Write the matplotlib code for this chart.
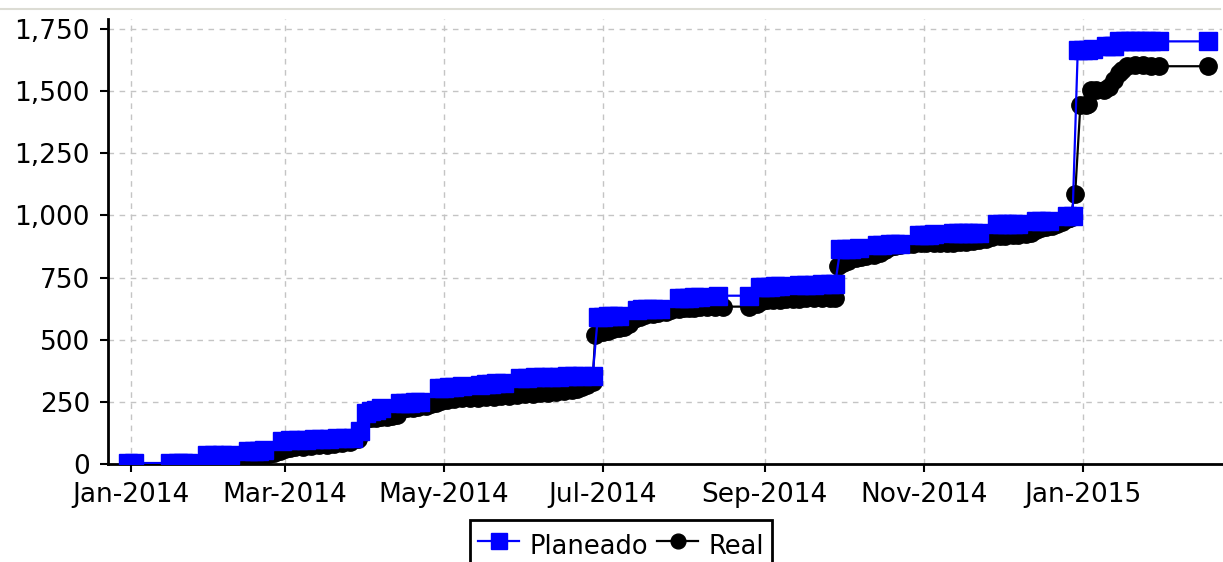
import matplotlib
matplotlib.use("Agg")
import matplotlib.pyplot as plt
import matplotlib.dates as mdates
import matplotlib.ticker as mticker
from matplotlib.lines import Line2D
import pandas as pd

# ---- data ----
plan_dates = [
    "2013-12-31", "2014-01-02", "2014-01-16", "2014-01-19", "2014-01-21", "2014-01-23",
    "2014-01-30", "2014-02-02", "2014-02-05", "2014-02-08",
    "2014-02-15", "2014-02-17", "2014-02-19", "2014-02-21",
    "2014-02-28", "2014-03-03", "2014-03-06", "2014-03-09", "2014-03-12", "2014-03-15",
    "2014-03-18", "2014-03-21", "2014-03-24", "2014-03-27",
    "2014-03-30",
    "2014-04-01", "2014-04-03", "2014-04-05", "2014-04-07",
    "2014-04-14", "2014-04-16", "2014-04-18", "2014-04-20", "2014-04-22",
    "2014-04-29", "2014-05-01", "2014-05-03", "2014-05-05", "2014-05-08",
    "2014-05-15", "2014-05-17", "2014-05-19", "2014-05-21", "2014-05-24",
    "2014-05-30", "2014-06-02", "2014-06-05", "2014-06-08", "2014-06-11", "2014-06-14",
    "2014-06-17", "2014-06-20", "2014-06-23", "2014-06-27",
    "2014-06-29", "2014-07-01", "2014-07-03", "2014-07-05", "2014-07-07",
    "2014-07-14", "2014-07-16", "2014-07-18", "2014-07-20", "2014-07-23",
    "2014-07-30", "2014-08-01", "2014-08-03", "2014-08-05", "2014-08-07",
    "2014-08-14", "2014-08-26",
    "2014-08-30", "2014-09-01", "2014-09-03", "2014-09-05", "2014-09-07",
    "2014-09-14", "2014-09-17", "2014-09-20", "2014-09-23", "2014-09-26", "2014-09-28",
    "2014-09-30", "2014-10-02", "2014-10-04", "2014-10-07",
    "2014-10-14", "2014-10-16", "2014-10-19", "2014-10-21", "2014-10-23",
    "2014-10-30", "2014-11-01", "2014-11-03", "2014-11-05",
    "2014-11-12", "2014-11-14", "2014-11-16", "2014-11-18", "2014-11-20", "2014-11-22",
    "2014-11-29", "2014-12-01", "2014-12-03", "2014-12-05", "2014-12-07",
    "2014-12-14", "2014-12-16", "2014-12-19",
    "2014-12-26", "2014-12-28",
    "2014-12-30", "2015-01-01", "2015-01-03", "2015-01-05",
    "2015-01-10", "2015-01-12", "2015-01-13",
    "2015-01-15", "2015-01-17", "2015-01-19", "2015-01-21", "2015-01-23", "2015-01-25",
    "2015-01-27", "2015-01-30", "2015-02-18"]
plan_values = [
    4, 4, 4, 4, 4, 4,
    36, 36, 37, 38,
    51, 52, 54, 56,
    94, 95, 96, 97, 99, 100,
    101, 103, 104, 105,
    134,
    207, 212, 218, 224,
    245, 246, 247, 248, 250,
    306, 307, 308, 310, 312,
    318, 320, 322, 324, 326,
    346, 347, 348, 349, 350, 351,
    352, 353, 354, 355,
    592, 593, 594, 595, 597,
    621, 622, 623, 624, 625,
    667, 668, 669, 670, 671,
    677, 677,
    711, 712, 713, 714, 715,
    720, 721, 722, 723, 725, 726,
    865, 866, 866, 867,
    881, 882, 883, 884, 885,
    922, 922, 923, 924,
    928, 928, 929, 930, 930, 931,
    965, 965, 966, 966, 967,
    976, 977, 978,
    996, 998,
    1665, 1666, 1667, 1668,
    1680, 1681, 1682,
    1700, 1700, 1700, 1700, 1700, 1700,
    1700, 1700, 1700]

real_dates = [
    "2014-01-16", "2014-01-20", "2014-01-23", "2014-01-27", "2014-01-30", "2014-02-02",
    "2014-02-05", "2014-02-08", "2014-02-11", "2014-02-14", "2014-02-17", "2014-02-19",
    "2014-02-21", "2014-02-23", "2014-02-25", "2014-02-27", "2014-03-01", "2014-03-03",
    "2014-03-05", "2014-03-08", "2014-03-11", "2014-03-14", "2014-03-17", "2014-03-20",
    "2014-03-23", "2014-03-26", "2014-03-29", "2014-04-01", "2014-04-03", "2014-04-05",
    "2014-04-07", "2014-04-09", "2014-04-11", "2014-04-13", "2014-04-15", "2014-04-17",
    "2014-04-19", "2014-04-21", "2014-04-24", "2014-04-26", "2014-04-28", "2014-04-30",
    "2014-05-02", "2014-05-05", "2014-05-08", "2014-05-11", "2014-05-14", "2014-05-17",
    "2014-05-20", "2014-05-23", "2014-05-26", "2014-05-29", "2014-06-01", "2014-06-04",
    "2014-06-07", "2014-06-10", "2014-06-13", "2014-06-16", "2014-06-19", "2014-06-21",
    "2014-06-23", "2014-06-25", "2014-06-27", "2014-06-28", "2014-07-01", "2014-07-03",
    "2014-07-05", "2014-07-07", "2014-07-09", "2014-07-11", "2014-07-13", "2014-07-15",
    "2014-07-17", "2014-07-20", "2014-07-22", "2014-07-25", "2014-07-27", "2014-07-30",
    "2014-08-01", "2014-08-03", "2014-08-05", "2014-08-07", "2014-08-10", "2014-08-13",
    "2014-08-16", "2014-08-26", "2014-08-29", "2014-08-31", "2014-09-02", "2014-09-04",
    "2014-09-07", "2014-09-09", "2014-09-12", "2014-09-14", "2014-09-17", "2014-09-20",
    "2014-09-23", "2014-09-26", "2014-09-28", "2014-09-29", "2014-10-01", "2014-10-03",
    "2014-10-06", "2014-10-08", "2014-10-10", "2014-10-13", "2014-10-15", "2014-10-17",
    "2014-10-19", "2014-10-21", "2014-10-23", "2014-10-26", "2014-10-28", "2014-10-31",
    "2014-11-02", "2014-11-05", "2014-11-07", "2014-11-10", "2014-11-12", "2014-11-15",
    "2014-11-17", "2014-11-20", "2014-11-22", "2014-11-25", "2014-11-27", "2014-11-30",
    "2014-12-02", "2014-12-05", "2014-12-07", "2014-12-10", "2014-12-12", "2014-12-14",
    "2014-12-16", "2014-12-18", "2014-12-20", "2014-12-22", "2014-12-24", "2014-12-26",
    "2014-12-27", "2014-12-29", "2014-12-31", "2015-01-02", "2015-01-03", "2015-01-04",
    "2015-01-06", "2015-01-09", "2015-01-11", "2015-01-13", "2015-01-15", "2015-01-16",
    "2015-01-18", "2015-01-21", "2015-01-24", "2015-01-27", "2015-01-30", "2015-02-18"]
real_values = [
    0, 0, 0, 1, 2, 3,
    4, 5, 8, 15, 25, 30,
    35, 40, 45, 52, 62, 65,
    68, 70, 72, 75, 78, 82,
    85, 90, 100, 182, 184, 185,
    188, 190, 193, 197, 220, 224,
    227, 230, 235, 240, 245, 252,
    258, 262, 264, 266, 267, 268,
    270, 273, 275, 278, 280, 282,
    285, 287, 289, 293, 298, 302,
    308, 316, 330, 519, 530, 537,
    542, 547, 552, 565, 585, 592,
    598, 605, 608, 612, 618, 625,
    627, 628, 629, 630, 631, 632,
    633, 633, 645, 655, 658, 660,
    661, 662, 664, 665, 666, 667,
    667, 668, 668, 797, 810, 818,
    830, 833, 835, 842, 850, 862,
    873, 877, 880, 884, 886, 888,
    889, 890, 890, 890, 890, 891,
    893, 897, 900, 907, 913, 916,
    918, 920, 921, 925, 930, 940,
    950, 955, 958, 965, 975, 985,
    990, 1085, 1444, 1446, 1450, 1504,
    1505, 1506, 1518, 1545, 1571, 1585,
    1600, 1605, 1603, 1600, 1600, 1600]

series_labels = ["Planeado", "Real"]

# ---- figure ----
W, H, DPI = 1223, 562, 100
fig = plt.figure(figsize=(W / DPI, H / DPI), dpi=DPI)
ax = fig.add_axes([108 / W, (H - 464) / H, (1222 - 108) / W, (464 - 19) / H])

pd_plan = pd.to_datetime(plan_dates)
pd_real = pd.to_datetime(real_dates)

ax.plot(pd_real, real_values, color="black", lw=1.6, marker="o", ms=12.5,
        label=series_labels[1], zorder=3)
ax.plot(pd_plan, plan_values, color="#0000ff", lw=1.6, marker="s", ms=13,
        label=series_labels[0], zorder=4)

base = pd.Timestamp("2014-01-01")
ax.set_xlim(base - pd.Timedelta(days=8.8), base + pd.Timedelta(days=418.3))
ax.set_ylim(0, 1790)

ax.xaxis.set_major_locator(mdates.MonthLocator(bymonth=[1, 3, 5, 7, 9, 11]))
ax.xaxis.set_major_formatter(mdates.DateFormatter("%b-%Y"))
ax.yaxis.set_major_locator(mticker.MultipleLocator(250))
ax.yaxis.set_major_formatter(mticker.FuncFormatter(lambda v, p: f"{int(v):,}"))

ax.grid(True, color="#c4c4c4", linestyle=(0, (4, 4)), linewidth=1.0)
ax.set_axisbelow(True)

for s in ["top", "right"]:
    ax.spines[s].set_visible(False)
for s in ["left", "bottom"]:
    ax.spines[s].set_linewidth(2)
    ax.spines[s].set_color("black")

ax.tick_params(axis="both", which="major", labelsize=19, length=6, width=1.5,
               color="black", labelcolor="black", direction="out")
ax.tick_params(axis="x", pad=7)
ax.tick_params(axis="y", pad=7)

handles, labels = ax.get_legend_handles_labels()
order = [1, 0]
leg = fig.legend([handles[i] for i in order], [labels[i] for i in order],
                 loc="upper center", bbox_to_anchor=(621 / W, 1 - 520 / H),
                 borderaxespad=0.0,
                 ncol=2, fontsize=18.5, frameon=True, fancybox=False,
                 framealpha=1.0, handleheight=1.75,
                 handlelength=1.6, handletextpad=0.4, columnspacing=0.35,
                 borderpad=0.3, markerscale=0.85)
leg.get_frame().set_edgecolor("black")
leg.get_frame().set_linewidth(2)

# light top border line
fig.add_artist(Line2D([0, 1220 / W], [1 - 8.5 / H, 1 - 8.5 / H], color="#dcdcd4",
                      lw=1.5, transform=fig.transFigure))

fig.savefig("out.png", dpi=DPI)
